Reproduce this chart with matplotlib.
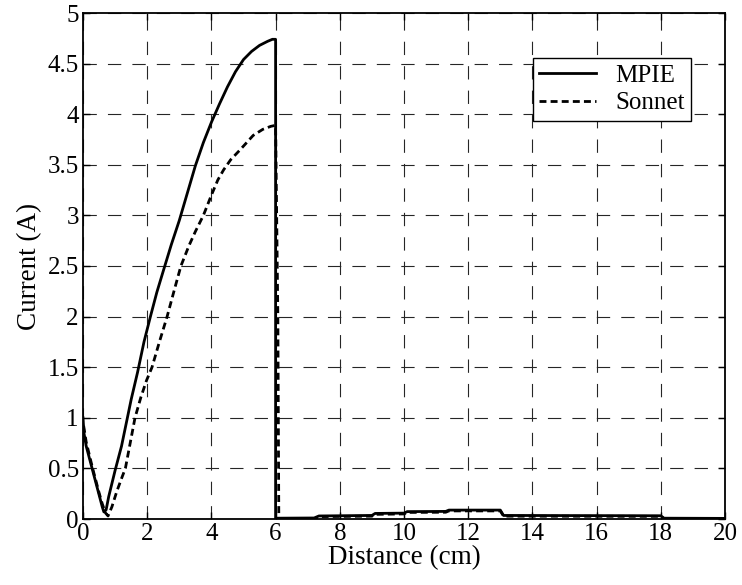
import numpy as np
import matplotlib
matplotlib.use('Agg')
from matplotlib import pyplot as plt
from matplotlib.ticker import FuncFormatter

plt.rcParams['font.family'] = ['Liberation Serif', 'DejaVu Serif']

# MPIE current along the line (cm, A)
x_mpie = [0, 0.03, 0.1, 0.2, 0.3, 0.4, 0.5, 0.6, 0.65, 0.72, 0.8, 0.9, 1.0, 1.1, 1.2,
          1.35, 1.5, 1.7, 1.9, 2.1, 2.3, 2.5, 2.75, 3.0, 3.25, 3.5, 3.75, 4.0, 4.25,
          4.5, 4.75, 5.0, 5.25, 5.5, 5.75, 5.9, 6.0, 6.0, 6.05, 7.2, 7.35, 9.0, 9.1,
          10.0, 10.1, 11.3, 11.4, 13.0, 13.1, 18.0, 18.1, 20.0]
y_mpie = [1.0, 0.85, 0.72, 0.6, 0.48, 0.36, 0.24, 0.12, 0.07, 0.09, 0.22, 0.35, 0.48,
          0.6, 0.72, 0.95, 1.18, 1.45, 1.75, 2.0, 2.24, 2.45, 2.71, 2.95, 3.22, 3.49,
          3.72, 3.92, 4.1, 4.27, 4.42, 4.54, 4.62, 4.68, 4.72, 4.74, 4.74, 0.0, 0.008,
          0.01, 0.03, 0.035, 0.055, 0.058, 0.073, 0.075, 0.088, 0.088, 0.035, 0.032,
          0.008, 0.006]

# Sonnet reference solution
x_son = [0.02, 0.1, 0.2, 0.3, 0.4, 0.5, 0.6, 0.7, 0.78, 0.9, 1.05, 1.2, 1.32, 1.47,
         1.62, 1.8, 1.98, 2.15, 2.38, 2.62, 2.85, 3.05, 3.3, 3.5, 3.75, 4.0, 4.2,
         4.38, 4.6, 4.9, 5.3, 5.6, 5.85, 6.0, 6.07, 6.1, 7.3, 7.45, 9.0, 9.1, 10.0,
         10.1, 11.3, 11.4, 13.0, 13.1, 18.0, 18.1, 20.0]
y_son = [0.92, 0.76, 0.63, 0.5, 0.38, 0.26, 0.15, 0.06, 0.03, 0.12, 0.27, 0.4, 0.5,
         0.75, 1.0, 1.2, 1.37, 1.5, 1.75, 2.0, 2.27, 2.5, 2.7, 2.84, 3.0, 3.2, 3.35,
         3.45, 3.55, 3.65, 3.79, 3.85, 3.88, 3.89, 2.0, 0.005, 0.005, 0.024, 0.028,
         0.046, 0.05, 0.065, 0.067, 0.08, 0.08, 0.028, 0.026, 0.004, 0.004]

fig = plt.figure(figsize=(7.42, 5.85), dpi=100)
ax = fig.add_axes([83/742, 1-519/585, 642/742, 506/585])

ax.plot(x_mpie, y_mpie, color='black', lw=2.0, label='MPIE')
ax.plot(x_son, y_son, color='black', lw=2.0, ls=(0, (2.5, 1.5)), label='Sonnet')

ax.set_xlim(0, 20)
ax.set_ylim(0, 5)
ax.set_xticks(np.arange(0, 21, 2))
ax.set_yticks(np.arange(0, 5.01, 0.5))
fmt = FuncFormatter(lambda v, p: '%g' % v)
ax.xaxis.set_major_formatter(fmt)
ax.yaxis.set_major_formatter(fmt)
ax.tick_params(direction='in', top=True, right=True, length=5, width=1,
               labelsize=18, pad=3)
ax.grid(True, color='0.15', lw=0.8, ls=(0, (12, 10)))
for s in ax.spines.values():
    s.set_linewidth(1.3)

ax.set_xlabel('Distance (cm)', fontsize=19.5, labelpad=0)
ax.set_ylabel('Current (A)', fontsize=19.5, labelpad=4)

leg = ax.legend(loc='upper right', bbox_to_anchor=(0.947, 0.911), borderaxespad=0,
                fontsize=18, fancybox=False, framealpha=1, edgecolor='black',
                handlelength=2.3, handletextpad=0.75, borderpad=0.25, labelspacing=0.2)
leg.get_frame().set_linewidth(1.0)

fig.savefig('out.png', dpi=100)
